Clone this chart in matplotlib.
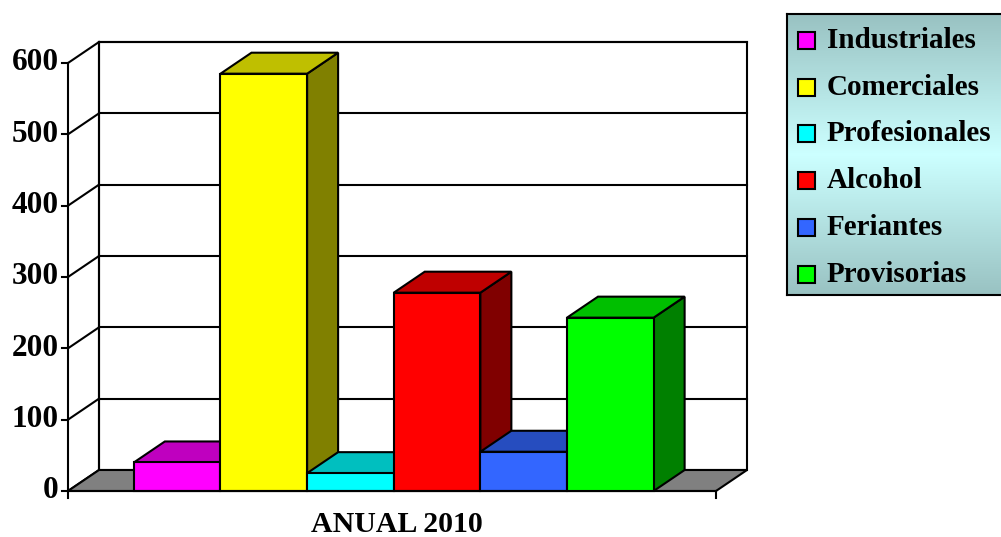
import numpy as np
import matplotlib.pyplot as plt
from matplotlib.patches import Polygon, Rectangle
from matplotlib.colors import to_rgb

categories = ['Industriales', 'Comerciales', 'Profesionales', 'Alcohol', 'Feriantes', 'Provisorias']
values = [40, 585, 25, 278, 55, 243]
colors = ['#FF00FF', '#FFFF00', '#00FFFF', '#FF0000', '#3366FF', '#00FF00']
yticks = [0, 100, 200, 300, 400, 500, 600]
xlabel = 'ANUAL 2010'

W, H = 1001, 537
FONT = 'Liberation Serif'


def shade(c, f):
    r, g, b = to_rgb(c)
    return (r * f, g * f, b * f)


fig = plt.figure(figsize=(W / 100, H / 100), dpi=100)
fig.patch.set_facecolor('white')

# front plane of the plot: x=68..716 px, y=491..63 px
ax = fig.add_axes([68 / W, (H - 491) / H, 648 / W, 428 / H])
x0, x1 = -0.76, 6.72
ax.set_xlim(x0, x1)
ax.set_ylim(0, 600)
ax.axis('off')

px = (x1 - x0) / 648          # data units per pixel, x
py = 600 / 428                 # data units per pixel, y
dx, dy = 31 * px, 21 * py      # depth offset
lw = 1.5
z = 1

# back wall
ax.add_patch(Polygon([(x0 + dx, dy), (x1 + dx, dy), (x1 + dx, 600 + dy), (x0 + dx, 600 + dy)],
                     closed=True, facecolor='white', edgecolor='black', lw=lw, zorder=z, clip_on=False))
for t in yticks[1:]:
    ax.plot([x0 + dx, x1 + dx], [t + dy, t + dy], color='black', lw=lw, zorder=z + 1, clip_on=False)
for t in yticks:
    ax.plot([x0, x0 + dx], [t, t + dy], color='black', lw=lw, zorder=z + 1, clip_on=False)
ax.plot([x0 + dx, x0 + dx], [dy, 600 + dy], color='black', lw=lw, zorder=z + 1, clip_on=False)

# floor
ax.add_patch(Polygon([(x0, 0), (x1, 0), (x1 + dx, dy), (x0 + dx, dy)],
                     closed=True, facecolor='#808080', edgecolor='black', lw=lw, zorder=z + 2, clip_on=False))

# front axis and ticks
ax.plot([x0, x0], [0, 600], color='black', lw=lw, zorder=20, clip_on=False)
ax.plot([x0, x1], [0, 0], color='black', lw=lw, zorder=20, clip_on=False)
for t in yticks:
    ax.plot([x0 - 6 * px, x0], [t, t], color='black', lw=lw, zorder=20, clip_on=False)
    ax.text(x0 - 9 * px, t, str(t), ha='right', va='center', fontsize=22.5,
            fontweight='bold', family=FONT, clip_on=False)
for xe in (x0, x1):
    ax.plot([xe, xe], [0, -7 * py], color='black', lw=lw, zorder=20, clip_on=False)

# bars
z = 5
for i, (v, c) in enumerate(zip(values, colors)):
    l, r = i, i + 1
    side = [(r, 0), (r + dx, dy), (r + dx, v + dy), (r, v)]
    top = [(l, v), (r, v), (r + dx, v + dy), (l + dx, v + dy)]
    ax.add_patch(Polygon(side, closed=True, facecolor=shade(c, 0.5), edgecolor='black',
                         lw=lw, zorder=z, clip_on=False))
    ax.add_patch(Polygon(top, closed=True, facecolor=shade(c, 0.75), edgecolor='black',
                         lw=lw, zorder=z + 1, clip_on=False))
    ax.add_patch(Rectangle((l, 0), 1, v, facecolor=c, edgecolor='black',
                           lw=lw, zorder=z + 2, clip_on=False))
    z += 3

ax.text(3.04, -41 * py, xlabel, ha='center', va='baseline', fontsize=21.5,
        fontweight='bold', family=FONT, clip_on=False)

# legend box with gradient
lax = fig.add_axes([787 / W, (H - 295) / H, 230 / W, 281 / H])
grad = np.concatenate([np.linspace(0, 1, 60), np.linspace(1, 0, 60)])
top_c = np.array(to_rgb('#99C2C2'))
mid_c = np.array(to_rgb('#CCFFFF'))
img = top_c[None, :] + (mid_c - top_c)[None, :] * grad[:, None]
lax.imshow(img[:, None, :], aspect='auto', extent=(0, 1, 0, 1), zorder=0)
lax.set_xlim(0, 1)
lax.set_ylim(0, 1)
lax.set_xticks([])
lax.set_yticks([])
for s in lax.spines.values():
    s.set_linewidth(1.5)

lpx = 1 / 230
lpy = 1 / 281
for k, (name, c) in enumerate(zip(categories, colors)):
    yc = 1 - (26.5 + 46.7 * k) * lpy
    lax.add_patch(Rectangle((11 * lpx, yc - 8.5 * lpy), 17 * lpx, 17 * lpy,
                            facecolor=c, edgecolor='black', lw=1.5, zorder=2))
    lax.text(40 * lpx, yc, name, ha='left', va='center', fontsize=21,
             fontweight='bold', family=FONT, zorder=3)

fig.savefig('out.png', dpi=100)
